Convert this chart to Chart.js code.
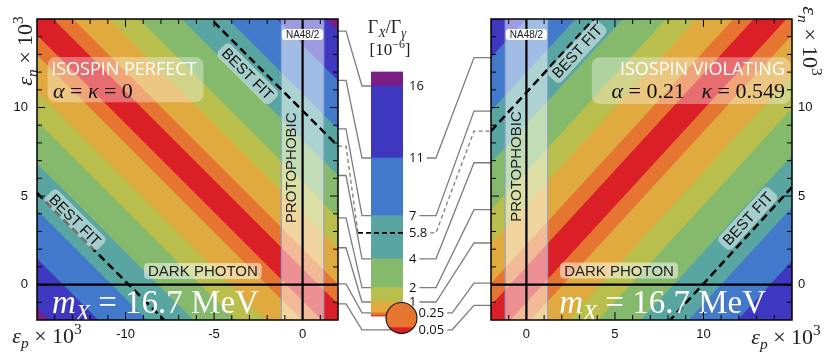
<!DOCTYPE html>
<html><head><meta charset="utf-8">
<script src="https://cdn.jsdelivr.net/npm/chart.js@4.4.1/dist/chart.umd.min.js"></script>
<style>
html,body{margin:0;padding:0;background:#fff;overflow:hidden}
#wrap{position:relative;width:830px;height:355px}
canvas{position:absolute;left:0;top:0}
</style></head><body>
<div id="wrap">
<canvas id="cbar" width="830" height="355"></canvas>
<canvas id="left" width="830" height="355"></canvas>
<canvas id="right" width="830" height="355"></canvas>
</div>
<script>
// ---------------- data ----------------
const levels = [0.05, 0.25, 1, 2, 4, 7, 11, 16];            // contour levels of Γ_X/Γ_γ [1e-6]
const levelLabels = ['0.05', '0.25', '1', '2', '4', '7', '11', '16'];
const bandColors = ['#da2026', '#e67531', '#e1aa3e', '#b9be4c', '#85ba6c', '#59a5a2', '#4379cb', '#3e37c0', '#7a1e86'];
const colorbarMax = 17;
const bestFitLevel = 5.8;
const bestFitLabel = '5.8';
// left panel (isospin perfect): contours are lines εp + εn = ±offset
const leftSlope = -1;
const leftOffsets = [0.91, 2.04, 4.08, 5.77, 8.16, 10.79, 13.53, 16.32];
const leftBestFit = 9.82;
// right panel (isospin violating): contours are lines εn − k·εp = ±offset
const rightSlope = 1.09;
const rightOffsets = [1.01, 2.26, 4.53, 6.41, 9.06, 11.98, 15.0, 18.1];
const rightBestFit = 10.85;
const na48Bound = 1.2;
const xRangeLeft = [-15, 2];
const xRangeRight = [-2, 15];
const yRange = [-2, 15];
const xTicksLeft = [-10, -5, 0];
const xTicksRight = [0, 5, 10];
const yTicks = [0, 5, 10];

// ---------------- helpers ----------------
const SANS = '"Liberation Sans", Arial, sans-serif';
const OPEN = '"Open Sans", sans-serif';
const SERIF = '"Liberation Serif", "Times New Roman", serif';

function drawRich(ctx, runs, x, y, size, align, color) {
  const parts = runs.map(r => {
    const s = (r.sub || r.sup) ? size * 0.7 : size;
    const font = (r.it ? 'italic ' : '') + s + 'px ' + SERIF;
    ctx.font = font;
    return {t: r.t, font, w: ctx.measureText(r.t).width, dy: r.sub ? size * 0.22 : (r.sup ? -size * 0.4 : 0)};
  });
  const total = parts.reduce((s, p) => s + p.w, 0);
  let cx = align === 'center' ? x - total / 2 : (align === 'right' ? x - total : x);
  ctx.textAlign = 'left'; ctx.textBaseline = 'alphabetic'; ctx.fillStyle = color;
  for (const p of parts) { ctx.font = p.font; ctx.fillText(p.t, cx, y + p.dy); cx += p.w; }
  return total;
}
function rrect(ctx, x, y, w, h, r) {
  ctx.beginPath();
  ctx.moveTo(x + r, y); ctx.lineTo(x + w - r, y); ctx.arcTo(x + w, y, x + w, y + r, r);
  ctx.lineTo(x + w, y + h - r); ctx.arcTo(x + w, y + h, x + w - r, y + h, r);
  ctx.lineTo(x + r, y + h); ctx.arcTo(x, y + h, x, y + h - r, r);
  ctx.lineTo(x, y + r); ctx.arcTo(x, y, x + r, y, r); ctx.closePath();
}
function seg(ctx, x1, y1, x2, y2) { ctx.beginPath(); ctx.moveTo(x1, y1); ctx.lineTo(x2, y2); ctx.stroke(); }

const epsP = [{t: 'ε', it: 1}, {t: 'p', it: 1, sub: 1}, {t: ' × 10'}, {t: '3', sup: 1}];
const epsN = [{t: 'ε', it: 1}, {t: 'n', it: 1, sub: 1}, {t: ' × 10'}, {t: '3', sup: 1}];
const massText = [{t: 'm', it: 1}, {t: 'X', it: 1, sub: 1}, {t: ' = 16.7 MeV'}];

function lineData(slope, c, xr) {
  return [{x: xr[0], y: slope * xr[0] + c}, {x: xr[1], y: slope * xr[1] + c}];
}

function makePanel(canvasId, cfg) {
  const xr = cfg.xRange;
  const signed = cfg.offsets.slice().reverse().map(v => -v).concat(cfg.offsets);
  const ds = [];
  signed.forEach((c, i) => ds.push({
    data: lineData(cfg.slope, c, xr), fill: 'start',
    backgroundColor: bandColors[i <= 8 ? 8 - i : i - 8],
    borderColor: 'rgba(0,0,0,0)', borderWidth: 0, pointRadius: 0, order: 100 + i
  }));
  // NA48/2 (protophobic) shaded strip
  ds.push({data: [{x: -na48Bound, y: yRange[1]}, {x: na48Bound, y: yRange[1]}], fill: 'start',
    backgroundColor: 'rgba(255,255,255,0.5)', borderColor: 'rgba(0,0,0,0)', borderWidth: 0, pointRadius: 0, order: 50});
  [-na48Bound, na48Bound].forEach(b => ds.push({data: [{x: b, y: yRange[0]}, {x: b, y: yRange[1]}], fill: false,
    borderColor: '#8ea3d6', borderWidth: 1, pointRadius: 0, order: 49}));
  // axes through origin
  ds.push({data: [{x: xr[0], y: 0}, {x: xr[1], y: 0}], fill: false, borderColor: '#000', borderWidth: 2.2, pointRadius: 0, order: 40});
  ds.push({data: [{x: 0, y: yRange[0]}, {x: 0, y: yRange[1]}], fill: false, borderColor: '#000', borderWidth: 2.2, pointRadius: 0, order: 40});
  // best fit dashed lines
  [-cfg.bestFit, cfg.bestFit].forEach(c => ds.push({data: lineData(cfg.slope, c, xr), fill: false,
    borderColor: '#000', borderWidth: 2.5, borderDash: [8, 4.5], pointRadius: 0, order: 30}));

  const decor = {
    id: 'decor' + canvasId,
    beforeDatasetsDraw(chart) {
      const a = chart.chartArea, ctx = chart.ctx;
      ctx.save(); ctx.fillStyle = bandColors[8]; ctx.fillRect(a.left, a.top, a.width, a.height); ctx.restore();
    },
    afterDraw(chart) {
      const ctx = chart.ctx, a = chart.chartArea, sx = chart.scales.x, sy = chart.scales.y;
      const P = (x, y) => [sx.getPixelForValue(x), sy.getPixelForValue(y)];
      ctx.save();
      ctx.beginPath(); ctx.rect(a.left, a.top, a.width, a.height); ctx.clip();
      // isospin box
      const b0 = P(cfg.box[0], cfg.box[3]), b1 = P(cfg.box[1], cfg.box[2]);
      ctx.fillStyle = 'rgba(255,255,255,0.35)';
      rrect(ctx, b0[0], b0[1], b1[0] - b0[0], b1[1] - b0[1], 8); ctx.fill();
      const t1 = P(cfg.titleAt[0], cfg.titleAt[1]);
      ctx.font = '18px ' + OPEN; ctx.fillStyle = '#fff'; ctx.textBaseline = 'middle';
      ctx.textAlign = cfg.titleAlign; ctx.fillText(cfg.title, t1[0], t1[1]);
      const t2 = P(cfg.mathAt[0], cfg.mathAt[1]);
      drawRich(ctx, cfg.math, t2[0], t2[1] + 7.5, 22, cfg.titleAlign, '#111');
      // best-fit labels
      const q0 = P(xr[0], cfg.slope * xr[0]), q1 = P(xr[1], cfg.slope * xr[1]);
      const ang = Math.atan2(q1[1] - q0[1], q1[0] - q0[0]);
      cfg.bestFitLabels.forEach(pt => {
        const p = P(pt[0], pt[1]);
        ctx.save(); ctx.translate(p[0], p[1]); ctx.rotate(ang);
        ctx.font = '15px ' + SANS; const w = ctx.measureText('BEST FIT').width;
        ctx.fillStyle = 'rgba(255,255,255,0.45)'; rrect(ctx, -w / 2 - 4, -9, w + 8, 18, 5); ctx.fill();
        ctx.fillStyle = '#111'; ctx.textAlign = 'center'; ctx.textBaseline = 'middle';
        ctx.fillText('BEST FIT', 0, 1);
        ctx.restore();
      });
      // protophobic
      const pp = P(cfg.protoAt[0], cfg.protoAt[1]);
      ctx.save(); ctx.translate(pp[0], pp[1]); ctx.rotate(-Math.PI / 2);
      ctx.font = '15px ' + SANS; ctx.fillStyle = '#222'; ctx.textAlign = 'center'; ctx.textBaseline = 'middle';
      ctx.fillText('PROTOPHOBIC', 0, 1); ctx.restore();
      // NA48/2 tag
      const np = P(0, cfg.naY);
      ctx.font = '10px ' + SANS; let w = ctx.measureText('NA48/2').width;
      ctx.fillStyle = 'rgba(255,255,255,0.92)'; rrect(ctx, np[0] - w / 2 - 4, np[1] - 5.5, w + 8, 11, 3); ctx.fill();
      ctx.fillStyle = '#222'; ctx.textAlign = 'center'; ctx.textBaseline = 'middle'; ctx.fillText('NA48/2', np[0], np[1] + 0.5);
      // dark photon
      const dp = P(cfg.darkAt[0], cfg.darkAt[1]);
      ctx.font = '15px ' + SANS; w = ctx.measureText('DARK PHOTON').width;
      ctx.fillStyle = 'rgba(255,255,255,0.5)'; rrect(ctx, dp[0] - w / 2 - 4, dp[1] - 8, w + 8, 16, 4); ctx.fill();
      ctx.fillStyle = '#222'; ctx.fillText('DARK PHOTON', dp[0], dp[1] + 1);
      // mass label
      const mp = P(cfg.massAt[0], cfg.massAt[1]);
      drawRich(ctx, massText, mp[0], mp[1], 33, 'left', '#fff');
      ctx.restore();

      // frame and inward ticks
      ctx.save(); ctx.strokeStyle = '#000'; ctx.lineWidth = 1;
      for (let v = Math.ceil(sx.min); v <= sx.max; v++) {
        if (v === sx.min || v === sx.max) continue;
        const px = sx.getPixelForValue(v), len = v % 5 === 0 ? 8 : 5;
        seg(ctx, px, a.top, px, a.top + len); seg(ctx, px, a.bottom, px, a.bottom - len);
      }
      for (let v = Math.ceil(sy.min); v <= sy.max; v++) {
        if (v === sy.min || v === sy.max) continue;
        const py = sy.getPixelForValue(v), len = v % 5 === 0 ? 8 : 5;
        seg(ctx, a.left, py, a.left + len, py); seg(ctx, a.right, py, a.right - len, py);
      }
      ctx.lineWidth = 1.5; ctx.strokeRect(a.left, a.top, a.width, a.height);
      // tick labels
      ctx.fillStyle = '#111'; ctx.font = '13px ' + SANS; ctx.textBaseline = 'middle';
      ctx.textAlign = 'center';
      cfg.xTicks.forEach(v => ctx.fillText(String(v), sx.getPixelForValue(v), a.bottom + 14));
      ctx.textAlign = cfg.side === 'left' ? 'right' : 'left';
      yTicks.forEach(v => ctx.fillText(String(v), cfg.side === 'left' ? a.left - 9 : a.right + 6, sy.getPixelForValue(v)));
      // axis titles
      if (cfg.side === 'left') {
        drawRich(ctx, epsP, a.left + 10, a.bottom + 23, 22, 'center', '#222');
        ctx.save(); ctx.translate(a.left - 12, a.top + 32); ctx.rotate(-Math.PI / 2);
        drawRich(ctx, epsN, 0, 7, 22, 'center', '#222'); ctx.restore();
      } else {
        drawRich(ctx, epsP, a.right - 6, a.bottom + 24, 22, 'center', '#222');
        ctx.save(); ctx.translate(a.right + 18, a.top + 22); ctx.rotate(Math.PI / 2);
        drawRich(ctx, epsN, 0, 7, 22, 'center', '#222'); ctx.restore();
      }
      ctx.restore();
    }
  };

  return new Chart(document.getElementById(canvasId), {
    type: 'line',
    data: {datasets: ds},
    options: {
      responsive: false, animation: false, events: [],
      layout: {padding: cfg.padding},
      scales: {
        x: {type: 'linear', min: xr[0], max: xr[1], display: false},
        y: {type: 'linear', min: yRange[0], max: yRange[1], display: false}
      },
      plugins: {legend: {display: false}, tooltip: {enabled: false}}
    },
    plugins: [decor]
  });
}

const leftChart = makePanel('left', {
  side: 'left', xRange: xRangeLeft, slope: leftSlope, offsets: leftOffsets, bestFit: leftBestFit,
  padding: {left: 37, right: 492, top: 19, bottom: 35}, xTicks: xTicksLeft,
  box: [-14.4, -5.6, 10.3, 12.85], title: 'ISOSPIN PERFECT', titleAt: [-14.2, 12.1], titleAlign: 'left',
  math: [{t: 'α', it: 1}, {t: ' = '}, {t: 'κ', it: 1}, {t: ' = 0'}], mathAt: [-14.1, 10.95],
  bestFitLabels: [[-3.1, 11.9], [-12.85, 3.65]], protoAt: [-0.65, 6.6], naY: 14.12,
  darkAt: [-5.63, 0.77], massAt: [-14.15, -1.6]
});
const rightChart = makePanel('right', {
  side: 'right', xRange: xRangeRight, slope: rightSlope, offsets: rightOffsets, bestFit: rightBestFit,
  padding: {left: 491, right: 38, top: 19, bottom: 35}, xTicks: xTicksRight,
  box: [3.69, 14.9, 10.2, 12.84], title: 'ISOSPIN VIOLATING', titleAt: [14.6, 12.1], titleAlign: 'right',
  math: [{t: 'α', it: 1}, {t: ' = 0.21   '}, {t: 'κ', it: 1}, {t: ' = 0.549'}], mathAt: [14.6, 10.95],
  bestFitLabels: [[2.86, 13.16], [12.5, 3.73]], protoAt: [-0.59, 6.67], naY: 14.12,
  darkAt: [5.23, 0.79], massAt: [1.85, -1.6]
});

// ---------------- colour bar ----------------
const bounds = [0].concat(levels, [colorbarMax]);
const cbarDecor = {
  id: 'cbarDecor',
  afterDraw(chart) {
    const ctx = chart.ctx, a = chart.chartArea, y = v => chart.scales.y.getPixelForValue(v);
    const barL = a.left, barR = a.right;
    const r = 15.5, cx = barR - 1.5, cy = y(0) + 1.6;
    const circY = v => cy + r - (v / levels[1]) * 2 * r;
    const labY = i => i === 0 ? circY(levels[0]) + 2.5 : y(levels[i]);
    const labX = i => i <= 1 ? cx + r + 1.5 : barR + 6;
    ctx.save();
    ctx.font = '13px ' + OPEN;
    ctx.strokeStyle = '#7d7d7d'; ctx.lineWidth = 1.3;
    const LA = leftChart.chartArea, RA = rightChart.chartArea;
    const inY = v => v >= yRange[0] && v <= yRange[1];
    // left leaders
    const leftItems = levels.map((lv, i) => ({v: leftSlope * xRangeLeft[1] + leftOffsets[i], ye: labY(i), xe: i === 0 ? cx : barL, dash: false}));
    leftItems.push({v: leftSlope * xRangeLeft[1] + leftBestFit, ye: y(bestFitLevel), xe: barL - 13, dash: true});
    leftItems.forEach(it => {
      if (!inY(it.v)) return;
      const ys = leftChart.scales.y.getPixelForValue(it.v);
      ctx.setLineDash(it.dash ? [4, 3] : []);
      ctx.beginPath(); ctx.moveTo(LA.right, ys); ctx.lineTo(LA.right + 8, ys);
      ctx.lineTo(barL - (it.dash ? 13 : 9), it.ye); ctx.lineTo(it.xe, it.ye); ctx.stroke();
    });
    // right leaders
    const rightItems = levels.map((lv, i) => ({v: rightSlope * xRangeRight[0] + rightOffsets[i], ly: labY(i), lx: labX(i), txt: levelLabels[i], dash: false}));
    rightItems.push({v: rightSlope * xRangeRight[0] + rightBestFit, ly: y(bestFitLevel), lx: barR + 6, txt: bestFitLabel, dash: true});
    rightItems.forEach(it => {
      if (!inY(it.v)) return;
      const yt = rightChart.scales.y.getPixelForValue(it.v);
      const x0 = it.lx + ctx.measureText(it.txt).width + 3;
      const x1 = Math.max(x0 + 5, barR + 33);
      ctx.setLineDash(it.dash ? [4, 3] : []);
      ctx.beginPath(); ctx.moveTo(x0, it.ly); ctx.lineTo(x1, it.ly);
      ctx.lineTo(RA.left - 17, yt); ctx.lineTo(RA.left, yt); ctx.stroke();
    });
    // best-fit dash across the bar
    ctx.setLineDash([5, 3]); ctx.strokeStyle = '#000'; ctx.lineWidth = 1.6;
    seg(ctx, barL - 13, y(bestFitLevel), barR, y(bestFitLevel));
    ctx.setLineDash([]);
    // magnifier circle for 0 – 0.25
    ctx.save();
    ctx.beginPath(); ctx.arc(cx, cy, r, 0, Math.PI * 2); ctx.clip();
    ctx.fillStyle = bandColors[1]; ctx.fillRect(cx - r, cy - r, 2 * r, 2 * r);
    ctx.fillStyle = bandColors[0]; ctx.fillRect(cx - r, circY(levels[0]), 2 * r, cy + r - circY(levels[0]));
    ctx.restore();
    ctx.beginPath(); ctx.arc(cx, cy, r, 0, Math.PI * 2); ctx.strokeStyle = '#111'; ctx.lineWidth = 1.1; ctx.stroke();
    // labels
    ctx.fillStyle = '#111'; ctx.textAlign = 'left'; ctx.textBaseline = 'middle'; ctx.font = '13px ' + OPEN;
    levels.forEach((lv, i) => ctx.fillText(levelLabels[i], labX(i), labY(i) + 0.5));
    ctx.fillText(bestFitLabel, barR + 6, y(bestFitLevel) + 0.5);
    // title
    const mid = (barL + barR) / 2;
    drawRich(ctx, [{t: 'Γ'}, {t: 'X', it: 1, sub: 1}, {t: '/Γ'}, {t: 'γ', it: 1, sub: 1}], mid, 33, 18, 'center', '#222');
    drawRich(ctx, [{t: '[10'}, {t: '−6', sup: 1}, {t: ']'}], mid + 3, 55, 17, 'center', '#222');
    ctx.restore();
  }
};

new Chart(document.getElementById('cbar'), {
  type: 'bar',
  data: {
    labels: [''],
    datasets: bandColors.map((c, i) => ({
      data: [[bounds[i], bounds[i + 1]]], backgroundColor: c, borderWidth: 0,
      grouped: false, barPercentage: 1, categoryPercentage: 1
    }))
  },
  options: {
    responsive: false, animation: false, events: [],
    layout: {padding: {left: 371, right: 427, top: 71.6, bottom: 38.6}},
    scales: {x: {display: false}, y: {display: false, min: 0, max: colorbarMax}},
    plugins: {legend: {display: false}, tooltip: {enabled: false}}
  },
  plugins: [cbarDecor]
});
</script>
</body></html>
